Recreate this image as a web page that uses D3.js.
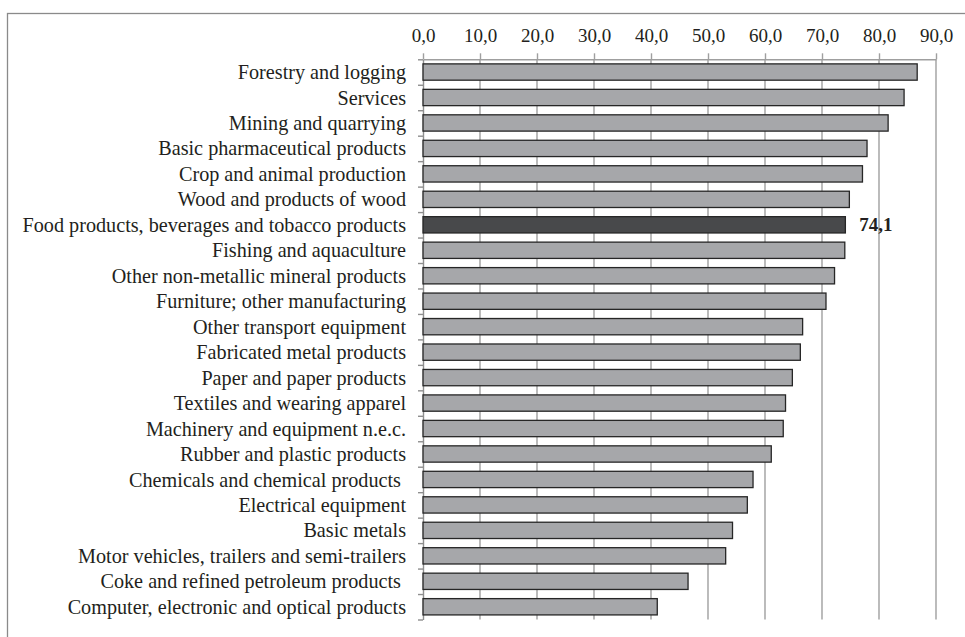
<!DOCTYPE html>
<html>
<head>
<meta charset="utf-8">
<script src="https://cdn.jsdelivr.net/npm/d3@7/dist/d3.min.js"></script>
<style>
  html, body { margin: 0; padding: 0; background: #fff; }
  svg { display: block; font-family: "Liberation Serif", "Times New Roman", serif; }
  text { white-space: pre; }
</style>
</head>
<body>
<svg id="chart" width="965" height="637"></svg>
<script>
const categories = [
  "Forestry and logging",
  "Services",
  "Mining and quarrying",
  "Basic pharmaceutical products",
  "Crop and animal production",
  "Wood and products of wood",
  "Food products, beverages and tobacco products",
  "Fishing and aquaculture",
  "Other non-metallic mineral products",
  "Furniture; other manufacturing",
  "Other transport equipment",
  "Fabricated metal products",
  "Paper and paper products",
  "Textiles and wearing apparel",
  "Machinery and equipment n.e.c.",
  "Rubber and plastic products",
  "Chemicals and chemical products ",
  "Electrical equipment",
  "Basic metals",
  "Motor vehicles, trailers and semi-trailers",
  "Coke and refined petroleum products ",
  "Computer, electronic and optical products"
];
const values = [86.7, 84.4, 81.6, 77.9, 77.1, 74.8, 74.1, 74.0, 72.2, 70.7, 66.6, 66.2, 64.8, 63.6, 63.2, 61.1, 57.9, 56.9, 54.3, 53.1, 46.5, 41.1];
const highlighted = ["Food products, beverages and tobacco products"];
const highlightLabels = ["74,1"];
const tickValues = [0, 10, 20, 30, 40, 50, 60, 70, 80, 90];
const tickLabels = ["0,0", "10,0", "20,0", "30,0", "40,0", "50,0", "60,0", "70,0", "80,0", "90,0"];

(function () {
const svg = d3.select("#chart");
const pLeft = 423, pRight = 936, pTop = 59.3, pBottom = 619.5;

// outer frame
svg.append("rect")
  .attr("x", 7.5).attr("y", 13.5).attr("width", 1000).attr("height", 700)
  .attr("fill", "none").attr("stroke", "#8a8a8a").attr("stroke-width", 1.3);

const x = d3.scaleLinear().domain([0, 90]).range([pLeft, pRight]);
const y = d3.scaleBand().domain(categories).range([pTop, pBottom])
  .paddingInner(0.36).paddingOuter(0.18);
const yIdx = d3.scaleLinear().domain([0, categories.length]).range([pTop, pBottom]);

// gridlines
svg.append("g").selectAll("line").data(tickValues.slice(1)).join("line")
  .attr("x1", d => x(d)).attr("x2", d => x(d))
  .attr("y1", pTop).attr("y2", pBottom)
  .attr("stroke", "#9f9f9f").attr("stroke-width", 1.4);

// top axis
const xAxis = d3.axisTop(x).tickValues(tickValues)
  .tickFormat((d, i) => tickLabels[i]).tickSize(6).tickSizeOuter(0);
const gx = svg.append("g").attr("transform", `translate(0,${pTop})`).call(xAxis);
gx.select(".domain").attr("stroke", "#9f9f9f").attr("stroke-width", 1.4);
gx.selectAll(".tick line").attr("stroke", "#9f9f9f").attr("stroke-width", 1.4);
gx.selectAll(".tick text")
  .attr("font-family", "Liberation Serif, Times New Roman, serif")
  .attr("font-size", 19).attr("fill", "#231f20")
  .attr("y", -23.5).attr("dy", "0.35em");

// left axis (ticks at category boundaries)
const yAxis = d3.axisLeft(yIdx).tickValues(d3.range(categories.length + 1))
  .tickFormat("").tickSize(5).tickSizeOuter(0);
const gy = svg.append("g").attr("transform", `translate(${pLeft},0)`).call(yAxis);
gy.select(".domain").attr("stroke", "#8f8f8f").attr("stroke-width", 1.4);
gy.selectAll(".tick line").attr("stroke", "#8f8f8f").attr("stroke-width", 1.4);

// bars
svg.append("g").selectAll("rect").data(categories).join("rect")
  .attr("x", x(0))
  .attr("y", d => y(d))
  .attr("width", (d, i) => x(values[i]) - x(0))
  .attr("height", y.bandwidth())
  .attr("fill", d => highlighted.includes(d) ? "#48494b" : "#a6a7aa")
  .attr("stroke", "#262626").attr("stroke-width", 1.3);

// category labels
svg.append("g").selectAll("text").data(categories).join("text")
  .attr("x", 406)
  .attr("y", d => y(d) + y.bandwidth() / 2)
  .attr("dy", "0.35em")
  .attr("text-anchor", "end")
  .attr("font-size", 20.2).attr("fill", "#231f20")
  .text(d => d);

// highlighted value label
svg.append("g").selectAll("text").data(highlighted).join("text")
  .attr("x", (d, i) => x(values[categories.indexOf(d)]) + 14)
  .attr("y", d => y(d) + y.bandwidth() / 2)
  .attr("dy", "0.35em")
  .attr("font-size", 19).attr("font-weight", "bold").attr("fill", "#231f20")
  .text((d, i) => highlightLabels[i]);
})();
</script>
</body>
</html>
